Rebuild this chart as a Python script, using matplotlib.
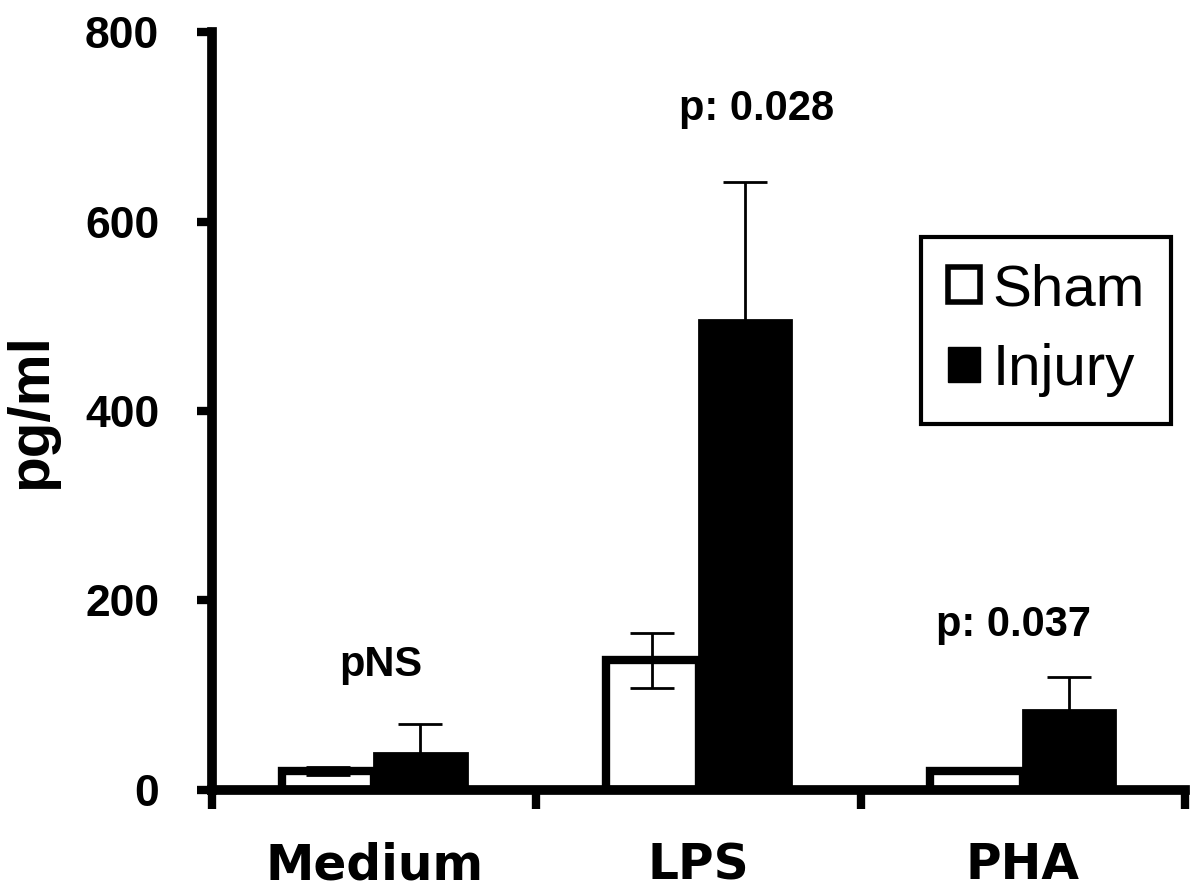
import numpy as np
import matplotlib
matplotlib.use("Agg")
import matplotlib.pyplot as plt
from matplotlib.patches import Patch

# values (pg/ml)
categories = ["Medium", "LPS", "PHA"]
sham_mean = [20, 137, 20]
sham_err = [4, 29, 0]
injury_mean = [39, 496, 84]
injury_err = [31, 146, 35]
p_labels = ["pNS", "p: 0.028", "p: 0.037"]
p_xpos = [0.02, 1.18, 1.97]
p_ypos = [120, 707, 163]
y_ticks = [0, 200, 400, 600, 800]

BOLD = "Liberation Sans"

fig = plt.figure(figsize=(12, 8.9), dpi=100)
ax = fig.add_axes([0.1767, 0.1124, 0.9875 - 0.1767, 0.964 - 0.1124])

x = np.arange(len(categories))
width = 0.285

ax.bar(x - width / 2, sham_mean, width, color="white", edgecolor="black",
       linewidth=6, zorder=2)
ax.bar(x + width / 2, injury_mean, width, color="black", edgecolor="black",
       linewidth=2, zorder=2)
ax.errorbar(x - width / 2, sham_mean, yerr=sham_err, fmt="none", ecolor="black",
            elinewidth=2, capsize=16, capthick=2, zorder=3)
ax.errorbar(x + width / 2, injury_mean, yerr=injury_err, fmt="none", ecolor="black",
            elinewidth=2, capsize=16, capthick=2, zorder=1)

for label, px, py in zip(p_labels, p_xpos, p_ypos):
    ax.text(px, py, label, ha="center", va="baseline", fontsize=30,
            fontweight="bold", family=BOLD)

ax.set_xlim(-0.5, 2.5)
ax.set_ylim(0, 800)

for side in ("top", "right"):
    ax.spines[side].set_visible(False)
for side in ("left", "bottom"):
    ax.spines[side].set_linewidth(7)
    ax.spines[side].set_capstyle("projecting")

ax.set_yticks(y_ticks)
ax.set_yticklabels([str(v) for v in y_ticks], fontsize=32, fontweight="bold",
                   family=BOLD)
ax.tick_params(axis="y", direction="out", length=11, width=6, pad=27)

# major x ticks mark group boundaries, minor ticks carry the labels
ax.set_xticks([-0.5, 0.5, 1.5, 2.5])
ax.set_xticklabels([])
ax.tick_params(axis="x", which="major", direction="out", length=14, width=6)
ax.set_xticks(x, minor=True)
ax.set_xticklabels(categories, minor=True, fontsize=35, fontweight="bold",
                   family="DejaVu Sans")
ax.tick_params(axis="x", which="minor", length=0, pad=37)

ax.text(-0.186, 0.5, "pg/ml", transform=ax.transAxes, rotation=90,
        ha="center", va="center", fontsize=42, fontweight="bold", family=BOLD)

handles = [Patch(facecolor="white", edgecolor="black", linewidth=4, label="Sham"),
           Patch(facecolor="black", edgecolor="black", label="Injury")]
leg = ax.legend(handles=handles, loc="upper left", bbox_to_anchor=(0.729, 0.7296),
                borderaxespad=0, frameon=True, fancybox=False, framealpha=1,
                prop={"family": "Liberation Sans", "size": 42},
                handlelength=0.55, handleheight=0.55, handletextpad=0.22,
                borderpad=0.45, labelspacing=0.45)
leg.get_frame().set_edgecolor("black")
leg.get_frame().set_linewidth(3)

fig.savefig("out.png", dpi=100, facecolor="white")
